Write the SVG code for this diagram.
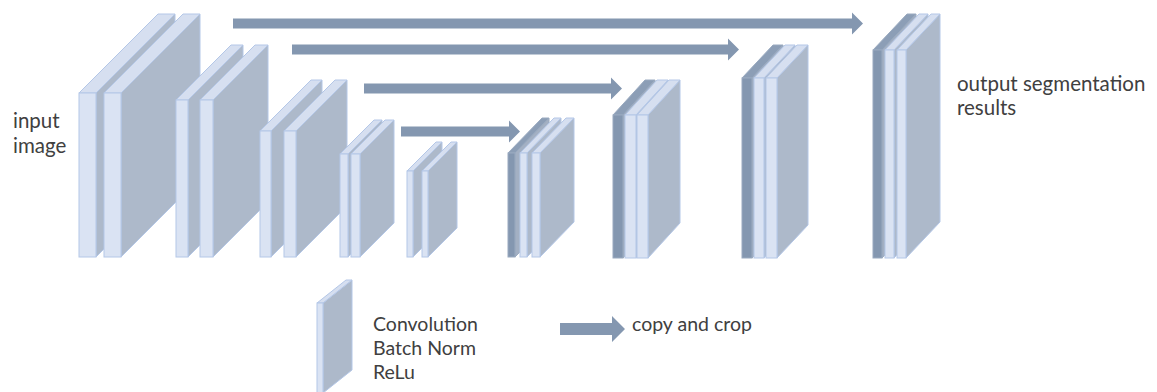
<svg xmlns="http://www.w3.org/2000/svg" width="1157" height="392" viewBox="0 0 1157 392">
  <style>
    .front { fill: #dae3f3; stroke: #b4c7e7; stroke-width: 1; }
    .top { fill: #d6dff0; stroke: #b4c7e7; stroke-width: 1; }
    .side { fill: #adb9ca; stroke: #b4c7e7; stroke-width: 1; }
    .dfront { fill: #8497b0; stroke: #9aaac0; stroke-width: 1; }
    .dtop { fill: #8c9eb6; stroke: #9aaac0; stroke-width: 1; }
    .dside { fill: #a3b0c3; stroke: #9aaac0; stroke-width: 1; }
    .arrow { fill: #8497b0; }
    .label { font-family: Lato, "Liberation Sans", sans-serif; font-size: 20.5px; fill: #404040; }
    .legend { font-family: Lato, "Liberation Sans", sans-serif; font-size: 19.5px; fill: #404040; }
  </style>

  <rect width="1157" height="392" fill="#ffffff"/>

  <!-- skip connections -->
  <g id="connectors">
    <path class="arrow" d="M233,18.5 H852 V12.5 L863,23.5 L852,34.5 V28.5 H233 Z"/>
    <path class="arrow" d="M292,44.5 H728 V38.5 L739,49.5 L728,60.5 V54.5 H292 Z"/>
    <path class="arrow" d="M364,83.5 H611 V77.5 L622,88.5 L611,99.5 V93.5 H364 Z"/>
    <path class="arrow" d="M401,126.5 H509 V120.5 L520,131.5 L509,142.5 V136.5 H401 Z"/>
  </g>

  <!-- encoder -->
  <g id="enc1">
    <polygon class="side" points="96,93 175,14 175,178 96,257"/>
    <polygon class="top" points="79,93 158,14 175,14 96,93"/>
    <rect class="front" x="79" y="93" width="17" height="164"/>
    <polygon class="side" points="121,93 200,14 200,178 121,257"/>
    <polygon class="top" points="104,93 183,14 200,14 121,93"/>
    <rect class="front" x="104" y="93" width="17" height="164"/>
  </g>

  <g id="enc2">
    <polygon class="side" points="188,100 243,45 243,202 188,257"/>
    <polygon class="top" points="176,100 231,45 243,45 188,100"/>
    <rect class="front" x="176" y="100" width="12" height="157"/>
    <polygon class="side" points="213,100 268,45 268,202 213,257"/>
    <polygon class="top" points="200,100 255,45 268,45 213,100"/>
    <rect class="front" x="200" y="100" width="13" height="157"/>
  </g>

  <g id="enc3">
    <polygon class="side" points="271,131 322,80 322,206 271,257"/>
    <polygon class="top" points="260,131 311,80 322,80 271,131"/>
    <rect class="front" x="260" y="131" width="11" height="126"/>
    <polygon class="side" points="296,131 347,80 347,206 296,257"/>
    <polygon class="top" points="284,131 335,80 347,80 296,131"/>
    <rect class="front" x="284" y="131" width="12" height="126"/>
  </g>

  <g id="enc4">
    <polygon class="side" points="348,154 382,120 382,223 348,257"/>
    <polygon class="top" points="340,154 374,120 382,120 348,154"/>
    <rect class="front" x="340" y="154" width="8" height="103"/>
    <polygon class="side" points="360,154 394,120 394,223 360,257"/>
    <polygon class="top" points="351,154 385,120 394,120 360,154"/>
    <rect class="front" x="351" y="154" width="9" height="103"/>
  </g>

  <g id="enc5">
    <polygon class="side" points="413,171 442,142 442,228 413,257"/>
    <polygon class="top" points="407,171 436,142 442,142 413,171"/>
    <rect class="front" x="407" y="171" width="6" height="86"/>
    <polygon class="side" points="428,171 457,142 457,228 428,257"/>
    <polygon class="top" points="422,171 451,142 457,142 428,171"/>
    <rect class="front" x="422" y="171" width="6" height="86"/>
  </g>

  <!-- decoder -->
  <g id="dec1">
    <polygon class="dside" points="515,153 549,118 549,222 515,257"/>
    <polygon class="dtop" points="508,153 542,118 549,118 515,153"/>
    <rect class="dfront" x="508" y="153" width="7" height="104"/>
    <polygon class="side" points="527,153 561,118 561,222 527,257"/>
    <polygon class="top" points="520,153 554,118 561,118 527,153"/>
    <rect class="front" x="520" y="153" width="7" height="104"/>
    <polygon class="side" points="540,153 574,118 574,222 540,257"/>
    <polygon class="top" points="532,153 566,118 574,118 540,153"/>
    <rect class="front" x="532" y="153" width="8" height="104"/>
  </g>

  <g id="dec2">
    <polygon class="dside" points="623,115 655,80 655,223 623,258"/>
    <polygon class="dtop" points="613,115 645,80 655,80 623,115"/>
    <rect class="dfront" x="613" y="115" width="10" height="143"/>
    <polygon class="side" points="636,115 668,80 668,223 636,258"/>
    <polygon class="top" points="625,115 657,80 668,80 636,115"/>
    <rect class="front" x="625" y="115" width="11" height="143"/>
    <polygon class="side" points="648,115 680,80 680,223 648,258"/>
    <polygon class="top" points="637,115 669,80 680,80 648,115"/>
    <rect class="front" x="637" y="115" width="11" height="143"/>
  </g>

  <g id="dec3">
    <polygon class="dside" points="752,78 783,45 783,225 752,258"/>
    <polygon class="dtop" points="742,78 773,45 783,45 752,78"/>
    <rect class="dfront" x="742" y="78" width="10" height="180"/>
    <polygon class="side" points="764,78 795,45 795,225 764,258"/>
    <polygon class="top" points="754,78 785,45 795,45 764,78"/>
    <rect class="front" x="754" y="78" width="10" height="180"/>
    <polygon class="side" points="777,78 808,45 808,225 777,258"/>
    <polygon class="top" points="766,78 797,45 808,45 777,78"/>
    <rect class="front" x="766" y="78" width="11" height="180"/>
  </g>

  <g id="dec4">
    <polygon class="dside" points="882,50 916,14 916,222 882,258"/>
    <polygon class="dtop" points="873,50 907,14 916,14 882,50"/>
    <rect class="dfront" x="873" y="50" width="9" height="208"/>
    <polygon class="side" points="894,50 928,14 928,222 894,258"/>
    <polygon class="top" points="885,50 919,14 928,14 894,50"/>
    <rect class="front" x="885" y="50" width="9" height="208"/>
    <polygon class="side" points="906,50 940,14 940,222 906,258"/>
    <polygon class="top" points="897,50 931,14 940,14 906,50"/>
    <rect class="front" x="897" y="50" width="9" height="208"/>
  </g>

  <!-- labels -->
  <g id="input-label">
    <text class="label" x="13" y="128">input</text>
    <text class="label" x="13" y="153">image</text>
  </g>
  <g id="output-label">
    <text class="label" x="957" y="91">output segmentation</text>
    <text class="label" x="957" y="115">results</text>
  </g>

  <!-- legend -->
  <g id="legend-layer">
    <polygon class="side" points="323,303 352,280 352,370 323,393"/>
    <polygon class="top" points="317,303 346,280 352,280 323,303"/>
    <rect class="front" x="317" y="303" width="6" height="90"/>
    <text class="legend" x="373" y="331">Convolution</text>
    <text class="legend" x="373" y="355">Batch Norm</text>
    <text class="legend" x="373" y="379">ReLu</text>
  </g>
  <g id="legend-copy">
    <path class="arrow" d="M560,323 H612 V316 L625,329 L612,342 V335 H560 Z"/>
    <text class="legend" x="632" y="331">copy and crop</text>
  </g>
</svg>
